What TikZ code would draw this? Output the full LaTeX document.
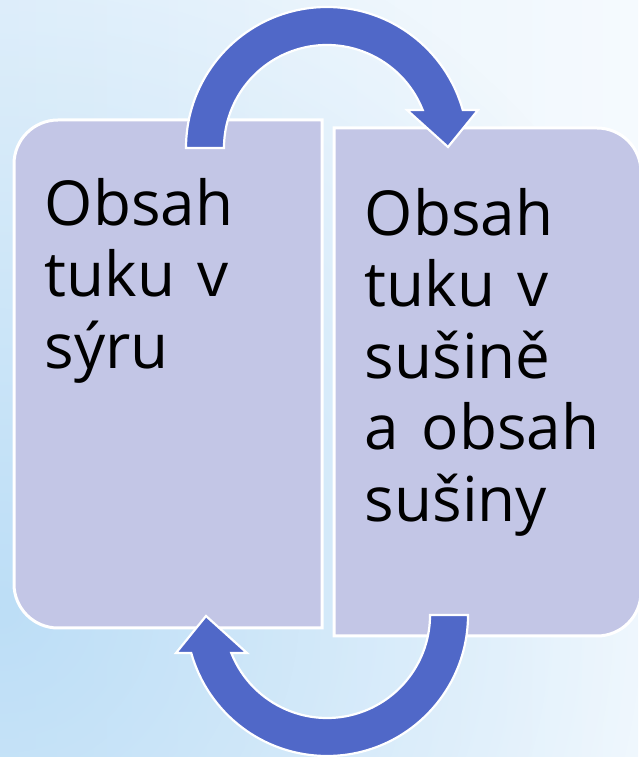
\documentclass[tikz,border=0pt]{standalone}
\usepackage{fontspec}
\setmainfont[WordSpace=1.4]{Open Sans}
\usetikzlibrary{fadings}
\definecolor{bgleft}{RGB}{228,241,251}
\definecolor{bgright}{RGB}{245,250,254}
\definecolor{bgblue}{RGB}{182,219,246}
\definecolor{boxfill}{RGB}{195,198,230}
\definecolor{arrowblue}{RGB}{80,104,200}
\tikzfading[name=blobfade, inner color=transparent!0, outer color=transparent!100]
\begin{document}
\begin{tikzpicture}[x=1pt,y=1pt,
  boxshape/.style={fill=boxfill, draw=white, line width=3pt},
  cyclearrow/.style={fill=arrowblue, draw=white, line width=2.2pt, line join=miter},
  boxtext/.style={anchor=north west, inner sep=0pt, align=left, font=\fontsize{62}{71.5}\selectfont}]
\useasboundingbox (0,0) rectangle (638,757);
% background
\shade[left color=bgleft, right color=bgright] (0,0) rectangle (638,757);
\begin{scope}
  \clip (0,0) rectangle (638,757);
  \fill[bgblue, path fading=blobfade, fill opacity=0.85] (0,150) circle (720);
\end{scope}
% boxes
\path[boxshape] (322,129) -- (58,129) arc[start angle=270, end angle=180, radius=44]
  -- (14,593) arc[start angle=180, end angle=90, radius=44] -- (322,637) -- cycle;
\path[boxshape] (334,121) -- (597,121) arc[start angle=270, end angle=360, radius=44]
  -- (641,585) arc[start angle=0, end angle=90, radius=44] -- (334,629) -- cycle;
% cycle arrows
\path[cyclearrow] (186,609) arc[start angle=180, end angle=15.6, radius=141]
  -- (478,647) -- (448,610) -- (407,647) -- (422.7,647)
  arc[start angle=21.65, end angle=180, radius=103] -- cycle;
\path[cyclearrow, rotate around={180:(327,375.5)}] (186,609) arc[start angle=180, end angle=15.6, radius=141]
  -- (478,647) -- (448,610) -- (407,647) -- (422.7,647)
  arc[start angle=21.65, end angle=180, radius=103] -- cycle;
% texts
\node[boxtext] (lefttext) at (44.6,579) {Obsah\\tuku v\\sýru};
\node[boxtext] (righttext) at (364.6,569) {Obsah\\tuku v\\sušině\\a obsah\\sušiny};
\end{tikzpicture}
\end{document}
